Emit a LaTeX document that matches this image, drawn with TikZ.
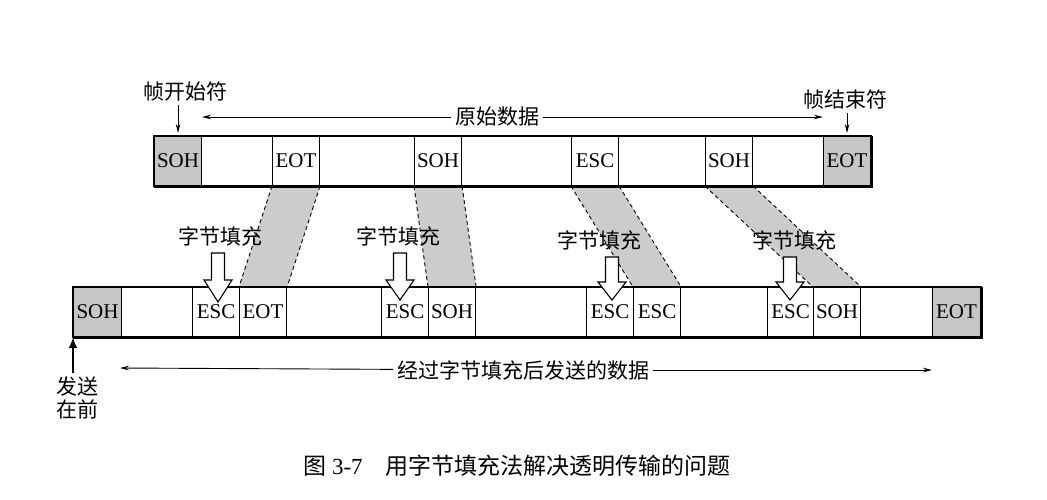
\documentclass[tikz,border=0pt]{standalone}
\usepackage{fontspec}
\setmainfont{Liberation Serif}
\newfontfamily\cjk{Noto Sans CJK SC}
\usepackage{tikz}
\usetikzlibrary{arrows.meta}

\tikzset{
  cell/.style={draw, line width=1.1pt, inner sep=0pt, minimum height=49pt, anchor=north west},
  endcell/.style={cell, fill=gray!45},
  band/.style={fill=gray!40},
  thin/.style={line width=0.9pt, -{Stealth[length=9pt,width=4.5pt]}},
  every node/.style={font=\fontsize{21}{25}\selectfont}
}

\begin{document}
\begin{tikzpicture}[x=1pt,y=-1pt]
\useasboundingbox (0,0) rectangle (1047,499);
% top frame
\foreach \l/\r/\t/\n/\s in {154/201/SOH/ta/endcell,201/272//tb/cell,272/319/EOT/tc/cell,
  319/414//td/cell,414/461/SOH/te/cell,461/571//tf/cell,571/618/ESC/tg/cell,
  618/705//th/cell,705/752/SOH/ti/cell,752/823//tj/cell,823/870/EOT/tk/endcell}
\node[\s, minimum width=\r pt-\l pt] (\n) at (\l,136) {\t};
% bottom frame
\foreach \l/\r/\t/\n/\s in {73/121/SOH/ba/endcell,121/192//bb/cell,192/239/ESC/bc/cell,
  239/286/EOT/bd/cell,286/381//be/cell,381/428/ESC/bf/cell,428/475/SOH/bg/cell,
  475/586//bh/cell,586/633/ESC/bi/cell,633/680/ESC/bj/cell,680/767//bk/cell,
  767/813/ESC/bl/cell,813/860/SOH/bm/cell,860/932//bn/cell,932/980/EOT/bo/endcell}
\node[\s, minimum width=\r pt-\l pt] (\n) at (\l,287) {\t};
% shaded bands
\foreach \u/\v in {tc/bd,te/bg,tg/bj,ti/bm} {
\fill[band] (\u.south west) -- (\u.south east) -- (\v.north east) -- (\v.north west) -- cycle;
\draw[line width=0.9pt, dash pattern=on 4pt off 3pt] (\u.south west) -- (\v.north west)
  (\u.south east) -- (\v.north east);
}
\draw[line width=1.3pt] (ta.north west) rectangle (tk.south east);
\draw[line width=3pt] (ta.south west) -- (tk.south east) -- (tk.north east);
\draw[line width=1.3pt] (ba.north west) rectangle (bo.south east);
\draw[line width=3pt] (ba.south west) -- (bo.south east) -- (bo.north east);
% labels
\node (lstart) at (185,92) {\cjk 帧开始符};
\node (lend) at (845,100) {\cjk 帧结束符};
\node (orig) at (497,117) {\cjk 原始数据};
\coordinate (origL) at (202,117);
\coordinate (origR) at (823,117);
\draw[thin] (orig) -- (origL);
\draw[thin] (orig) -- (origR);
\draw[thin] (lstart.south -| ta.north) -- ([yshift=3pt]ta.north);
\draw[thin] (lend.south -| tk.north) -- ([yshift=3pt]tk.north);
\node (fill1) at (220,236) {\cjk 字节填充};
\node (fill2) at (398,236) {\cjk 字节填充};
\node (fill3) at (599,240) {\cjk 字节填充};
\node (fill4) at (794,240) {\cjk 字节填充};
\foreach \x/\t/\h/\b in {218/253/280/302,400/253/280/300,612/257/282/300,790/257/282/300}
\filldraw[fill=white, line width=1.1pt] ({\x-6.5},\t) -- ({\x+6.5},\t) -- ({\x+6.5},\h)
  -- ({\x+14},\h) -- (\x,\b) -- ({\x-14},\h) -- ({\x-6.5},\h) -- cycle;
\node (sent) at (523,370) {\cjk 经过字节填充后发送的数据};
\coordinate (sentL) at (120,368);
\coordinate (sentR) at (932,370);
\draw[thin] (sent) -- (sentL);
\draw[thin] (sent) -- (sentR);
\node[align=center, font=\fontsize{21}{23}\selectfont\cjk] (first) at (77,398) {发送\\在前};
\draw[line width=2.8pt, -{Latex[length=11pt,width=9pt]}] (first.north -| ba.south west) -- (ba.south west);
\node[font=\fontsize{23}{26}\selectfont] (cap) at (517,466) {{\cjk 图} 3-7\quad{\cjk 用字节填充法解决透明传输的问题}};
\end{tikzpicture}
\end{document}
